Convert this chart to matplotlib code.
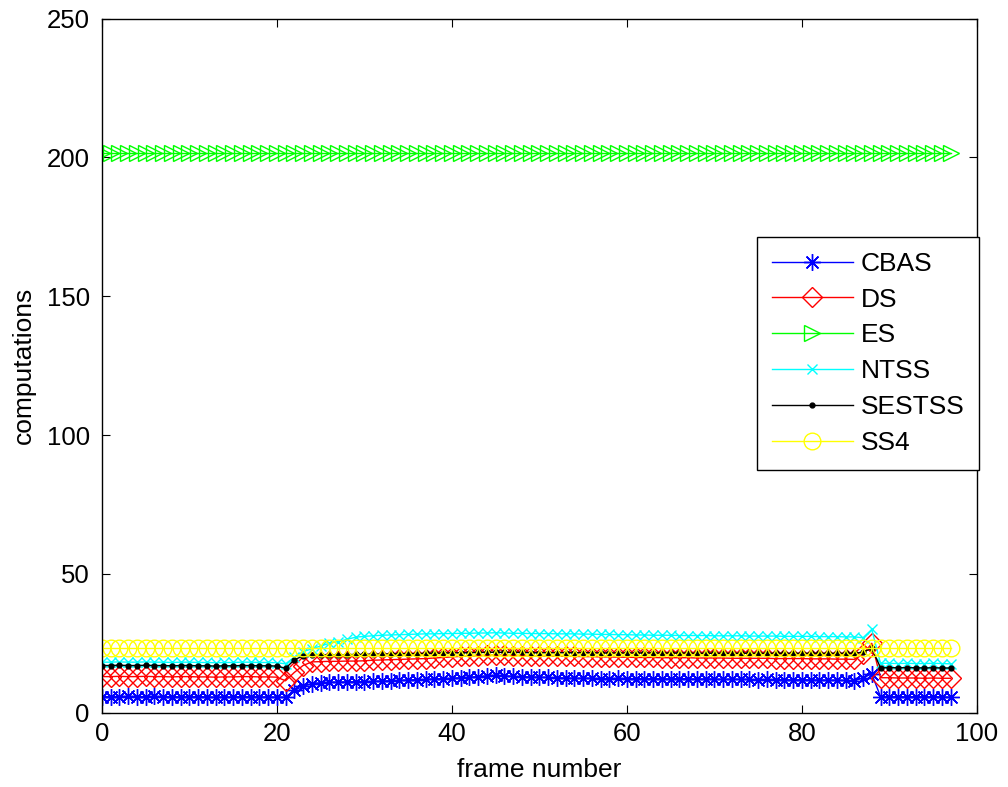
import numpy as np
import matplotlib.pyplot as plt

plt.rcParams['font.family'] = ['Liberation Sans', 'DejaVu Sans']

# frame index 0..97
frames = np.arange(98)

cbas = [5.8, 5.8, 5.8, 5.9, 5.8, 5.8, 5.9, 5.8, 5.8, 5.7, 5.8, 5.8, 5.7, 5.6, 5.7, 5.7,
        5.8, 5.8, 5.7, 5.7, 5.6, 5.6, 8.0, 9.5, 10.5, 10.8, 11.0, 11.0, 11.1, 11.2, 11.2, 11.3,
        11.4, 11.5, 11.6, 11.8, 11.9, 12.0, 12.2, 12.3, 12.4, 12.6, 12.8, 13.0, 13.3, 13.5, 13.3, 13.1,
        13.0, 12.9, 12.8, 12.7, 12.6, 12.5, 12.4, 12.4, 12.4, 12.3, 12.3, 12.4, 12.3, 12.3, 12.2, 12.3,
        12.2, 12.2, 12.3, 12.2, 12.1, 12.2, 12.1, 12.0, 12.1, 12.0, 12.0, 11.9, 12.0, 11.9, 11.9, 11.8,
        11.9, 11.8, 11.8, 11.7, 11.7, 11.6, 11.5, 12.5, 14.0, 5.8, 5.8, 5.8, 5.7, 5.8, 5.7, 5.8,
        5.7, 5.6]

ds = [13.0, 13.0, 13.1, 13.0, 13.0, 13.1, 13.0, 13.0, 12.9, 13.0, 13.0, 12.9, 12.9, 12.8, 12.9, 12.9,
      13.0, 13.0, 12.9, 12.9, 12.8, 11.5, 14.5, 17.0, 18.3, 18.4, 18.5, 18.5, 18.6, 18.6, 18.7, 18.9,
      19.0, 19.1, 19.2, 19.3, 19.4, 19.5, 19.7, 19.9, 20.1, 20.3, 20.4, 20.5, 20.7, 20.8, 20.7, 20.6,
      20.6, 20.5, 20.5, 20.4, 20.4, 20.3, 20.3, 20.2, 20.2, 20.1, 20.1, 20.0, 20.0, 19.9, 19.9, 19.9,
      19.8, 19.8, 19.8, 19.8, 19.7, 19.7, 19.7, 19.7, 19.6, 19.6, 19.6, 19.6, 19.6, 19.5, 19.5, 19.5,
      19.5, 19.4, 19.4, 19.4, 19.3, 19.3, 19.2, 21.0, 25.0, 12.6, 12.6, 12.5, 12.5, 12.5, 12.4, 12.5,
      12.4, 12.4]

es = [201.6, 201.6, 201.6, 201.6, 201.6, 201.6, 201.6, 201.6, 201.6, 201.6, 201.6, 201.6, 201.6, 201.6,
      201.6, 201.6, 201.6, 201.6, 201.6, 201.6, 201.6, 201.6, 201.6, 201.6, 201.6, 201.6, 201.6, 201.6,
      201.6, 201.6, 201.6, 201.6, 201.6, 201.6, 201.6, 201.6, 201.6, 201.6, 201.6, 201.6, 201.6, 201.6,
      201.6, 201.6, 201.6, 201.6, 201.6, 201.6, 201.6, 201.6, 201.6, 201.6, 201.6, 201.6, 201.6, 201.6,
      201.6, 201.6, 201.6, 201.6, 201.6, 201.6, 201.6, 201.6, 201.6, 201.6, 201.6, 201.6, 201.6, 201.6,
      201.6, 201.6, 201.6, 201.6, 201.6, 201.6, 201.6, 201.6, 201.6, 201.6, 201.6, 201.6, 201.6, 201.6,
      201.6, 201.6, 201.6, 201.6, 201.6, 201.6, 201.6, 201.6, 201.6, 201.6, 201.6, 201.6, 201.6, 201.6]

ntss = [18.2, 18.2, 18.3, 18.2, 18.2, 18.3, 18.2, 18.2, 18.1, 18.2, 18.2, 18.1, 18.1, 18.0, 18.1, 18.1,
        18.2, 18.2, 18.1, 18.1, 18.0, 17.6, 20.0, 22.0, 23.0, 24.0, 25.0, 25.6, 26.4, 27.2, 27.5, 27.7,
        27.9, 28.0, 28.1, 28.2, 28.3, 28.4, 28.4, 28.5, 28.5, 28.6, 28.6, 28.7, 28.7, 28.8, 28.7, 28.6,
        28.6, 28.5, 28.5, 28.5, 28.4, 28.4, 28.4, 28.3, 28.3, 28.2, 28.2, 28.1, 28.1, 28.0, 28.0, 27.9,
        27.9, 27.9, 27.8, 27.8, 27.8, 27.8, 27.7, 27.7, 27.7, 27.7, 27.6, 27.6, 27.6, 27.6, 27.5, 27.5,
        27.5, 27.5, 27.4, 27.4, 27.4, 27.3, 27.3, 27.0, 30.0, 17.8, 17.8, 17.7, 17.8, 17.7, 17.7, 17.8,
        17.7, 17.6]

sestss = [17.0, 17.0, 17.1, 17.0, 17.0, 17.1, 17.0, 17.0, 16.9, 17.0, 17.0, 16.9, 16.9, 16.8, 16.9, 16.9,
          17.0, 17.0, 16.9, 16.9, 16.8, 16.0, 19.0, 20.5, 20.7, 20.8, 20.8, 20.9, 20.9, 21.0, 21.0, 21.1,
          21.1, 21.2, 21.2, 21.3, 21.3, 21.4, 21.4, 21.5, 21.5, 21.6, 21.6, 21.7, 21.7, 21.8, 21.7, 21.7,
          21.7, 21.6, 21.6, 21.6, 21.6, 21.6, 21.6, 21.6, 21.6, 21.5, 21.5, 21.5, 21.5, 21.5, 21.5, 21.5,
          21.5, 21.5, 21.5, 21.5, 21.4, 21.4, 21.4, 21.4, 21.4, 21.4, 21.4, 21.4, 21.4, 21.4, 21.4, 21.4,
          21.4, 21.4, 21.4, 21.4, 21.4, 21.4, 21.4, 21.8, 23.2, 16.2, 16.2, 16.2, 16.2, 16.2, 16.1, 16.2,
          16.1, 16.1]

ss4 = [23.3, 23.3, 23.3, 23.3, 23.3, 23.3, 23.3, 23.3, 23.3, 23.3, 23.3, 23.3, 23.3, 23.3, 23.3, 23.3,
       23.3, 23.3, 23.3, 23.3, 23.3, 23.3, 23.3, 23.3, 23.3, 23.3, 23.3, 23.3, 23.3, 23.3, 23.3, 23.3,
       23.3, 23.3, 23.3, 23.3, 23.3, 23.3, 23.3, 23.3, 23.3, 23.3, 23.3, 23.3, 23.3, 23.3, 23.3, 23.3,
       23.3, 23.3, 23.3, 23.3, 23.3, 23.3, 23.3, 23.3, 23.3, 23.3, 23.3, 23.3, 23.3, 23.3, 23.3, 23.3,
       23.3, 23.3, 23.3, 23.3, 23.3, 23.3, 23.3, 23.3, 23.3, 23.3, 23.3, 23.3, 23.3, 23.3, 23.3, 23.3,
       23.3, 23.3, 23.3, 23.3, 23.3, 23.3, 23.3, 23.3, 23.3, 23.3, 23.3, 23.3, 23.3, 23.3, 23.3, 23.3,
       23.3, 23.3]

labels = ['CBAS', 'DS', 'ES', 'NTSS', 'SESTSS', 'SS4']

# matlab style asterisk: + and x on top of each other
star = (8, 2, 0)

fig = plt.figure(figsize=(10.08, 7.87), dpi=100)
ax = fig.add_axes([0.101, 0.0944, 0.868, 0.882])

ax.plot(frames, cbas, color='#0000ff', lw=1, marker=star, ms=12, mew=1, label=labels[0])
ax.plot(frames, ds, color='#ff0000', lw=1, marker='D', ms=10, mfc='none', mew=1, label=labels[1])
ax.plot(frames, es, color='#00ff00', lw=1, marker='>', ms=12, mfc='none', mew=1, label=labels[2])
ax.plot(frames, ntss, color='#00ffff', lw=1, marker='x', ms=7, mew=1, label=labels[3])
ax.plot(frames, sestss, color='#000000', lw=1, marker='.', ms=7, label=labels[4])
ax.plot(frames, ss4, color='#ffff00', lw=1, marker='o', ms=12, mfc='none', mew=1, label=labels[5])

ax.set_xlim(0, 100)
ax.set_ylim(0, 250)
ax.set_xticks([0, 20, 40, 60, 80, 100])
ax.set_yticks([0, 50, 100, 150, 200, 250])
ax.tick_params(direction='in', length=5.8, width=0.8, labelsize=18.5, top=True, right=True)
ax.tick_params(axis='x', pad=7)
ax.tick_params(axis='y', pad=8.6)
for s in ax.spines.values():
    s.set_linewidth(1.0)

ax.set_xlabel('frame number', fontsize=19, labelpad=8)
ax.set_ylabel('computations', fontsize=19)
# put the y label where matlab has it, well left of the tick labels
ax.yaxis.set_label_coords(-0.0754, 0.5)

leg = ax.legend(loc='upper left', bbox_to_anchor=(0.749, 0.685), fontsize=19,
                frameon=True, fancybox=False, edgecolor='black', framealpha=1,
                handlelength=3.07, handletextpad=0.3, labelspacing=0.45, borderpad=0.55,
                borderaxespad=0)
leg.get_frame().set_linewidth(1.0)

fig.savefig('out.png', dpi=100)
